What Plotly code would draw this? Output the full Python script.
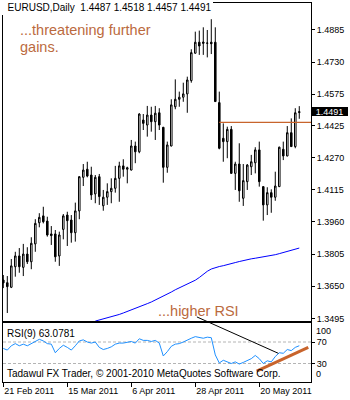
import pandas as pd
import plotly.graph_objects as go

# ---------------- data ----------------
dates = pd.bdate_range("2011-02-21", periods=75)
bars = list(range(75))

opens = [1.3680, 1.3667, 1.3645, 1.3744, 1.3796, 1.3741, 1.3805, 1.3768, 1.3854, 1.3956,
         1.3989, 1.3964, 1.3902, 1.3902, 1.3796, 1.3924, 1.3993, 1.3969, 1.3908, 1.4013,
         1.4175, 1.4214, 1.4186, 1.4095, 1.4178, 1.4038, 1.4079, 1.4106, 1.4122, 1.4170,
         1.4230, 1.4214, 1.4210, 1.4326, 1.4298, 1.4451, 1.4427, 1.4475, 1.4443, 1.4486,
         1.4416, 1.4223, 1.4326, 1.4515, 1.4551, 1.4561, 1.4577, 1.4641, 1.4773, 1.4826,
         1.4827, 1.4821, 1.4826, 1.4826, 1.4535, 1.4363, 1.4347, 1.4406, 1.4194, 1.4239,
         1.4074, 1.4154, 1.4226, 1.4245, 1.4307, 1.4130, 1.4042, 1.4101, 1.4079, 1.4130,
         1.4310, 1.4278, 1.4390, 1.4323, 1.4487]
highs = [1.3704, 1.3699, 1.3781, 1.3816, 1.3834, 1.3854, 1.3838, 1.3886, 1.3973, 1.4002,
         1.4033, 1.3985, 1.3940, 1.3921, 1.3913, 1.3998, 1.4009, 1.3993, 1.4053, 1.4180,
         1.4239, 1.4250, 1.4226, 1.4186, 1.4191, 1.4114, 1.4146, 1.4170, 1.4230, 1.4250,
         1.4262, 1.4226, 1.4355, 1.4347, 1.4484, 1.4480, 1.4519, 1.4515, 1.4519, 1.4508,
         1.4418, 1.4347, 1.4551, 1.4647, 1.4588, 1.4631, 1.4660, 1.4792, 1.4877, 1.4882,
         1.4898, 1.4885, 1.4937, 1.4898, 1.4588, 1.4435, 1.4419, 1.4422, 1.4250, 1.4339,
         1.4239, 1.4239, 1.4283, 1.4320, 1.4347, 1.4132, 1.4127, 1.4117, 1.4202, 1.4323,
         1.4347, 1.4422, 1.4459, 1.4508, 1.4518]
lows = [1.3641, 1.3521, 1.3641, 1.3696, 1.3715, 1.3699, 1.3757, 1.3732, 1.3816, 1.3934,
        1.3953, 1.3889, 1.3849, 1.3768, 1.3748, 1.3876, 1.3844, 1.3860, 1.3865, 1.3973,
        1.4133, 1.4175, 1.4066, 1.4050, 1.4042, 1.4014, 1.4042, 1.4050, 1.4101, 1.4057,
        1.4178, 1.4146, 1.4208, 1.4243, 1.4291, 1.4403, 1.4371, 1.4395, 1.4355, 1.4403,
        1.4149, 1.4197, 1.4324, 1.4503, 1.4515, 1.4539, 1.4486, 1.4631, 1.4771, 1.4765,
        1.4765, 1.4753, 1.4769, 1.4538, 1.4310, 1.4250, 1.4267, 1.4192, 1.4114, 1.4057,
        1.4037, 1.4114, 1.4186, 1.4194, 1.4130, 1.3966, 1.3993, 1.4004, 1.4062, 1.4128,
        1.4258, 1.4276, 1.4321, 1.4315, 1.4457]
closes = [1.3666, 1.3648, 1.3748, 1.3796, 1.3744, 1.3805, 1.3768, 1.3857, 1.3953, 1.3982,
          1.3961, 1.3897, 1.3894, 1.3792, 1.3897, 1.3989, 1.3966, 1.3908, 1.4013, 1.4178,
          1.4210, 1.4181, 1.4090, 1.4175, 1.4082, 1.4079, 1.4106, 1.4122, 1.4170, 1.4230,
          1.4214, 1.4221, 1.4326, 1.4298, 1.4480, 1.4435, 1.4475, 1.4443, 1.4484, 1.4427,
          1.4223, 1.4331, 1.4524, 1.4551, 1.4561, 1.4577, 1.4644, 1.4776, 1.4826, 1.4808,
          1.4821, 1.4822, 1.4819, 1.4540, 1.4315, 1.4347, 1.4406, 1.4194, 1.4239, 1.4110,
          1.4159, 1.4234, 1.4250, 1.4307, 1.4154, 1.4042, 1.4101, 1.4079, 1.4133, 1.4320,
          1.4278, 1.4390, 1.4323, 1.4486, 1.4491]

ma_start_bar = 23
ma_values = [1.3482, 1.3487, 1.3493, 1.3498, 1.3502, 1.3507, 1.3514, 1.3521, 1.3528, 1.3535,
             1.3543, 1.3550, 1.3558, 1.3566, 1.3574, 1.3583, 1.3592, 1.3601, 1.3612, 1.3622,
             1.3633, 1.3642, 1.3652, 1.3662, 1.3670, 1.3679, 1.3692, 1.3708, 1.3722, 1.3733,
             1.3740, 1.3745, 1.3749, 1.3753, 1.3758, 1.3764, 1.3769, 1.3774, 1.3778, 1.3782,
             1.3785, 1.3788, 1.3791, 1.3794, 1.3798, 1.3802, 1.3807, 1.3812, 1.3817, 1.3822,
             1.3828, 1.3834]

rsi_values = [58, 55, 63, 67, 63, 66, 63, 67, 72, 75,
              72, 67, 66, 50, 58, 64, 60, 55, 63, 72,
              74, 70, 68, 70, 60, 56, 58, 61, 66, 68,
              68, 69, 71, 68, 76, 73, 73, 71, 73, 68,
              44, 52, 62, 66, 67, 70, 74, 77, 80, 79,
              77, 79, 78, 46, 31, 36, 33, 30, 33, 29,
              32, 35, 39, 45, 39, 30, 35, 33, 43, 50,
              49, 56, 54, 60, 63.0781]
rsi_period = 9
rsi_levels = [70, 30]

price_ticks = [1.3495, 1.3650, 1.3805, 1.3960, 1.4115, 1.4270, 1.4425, 1.4575, 1.4730, 1.4885]
date_tick_bars = [0, 16, 32, 48, 64]
date_tick_labels = [dates[i].strftime("%-d %b %Y") for i in date_tick_bars]

resistance_price = 1.4440
resistance_start_bar = 54
rsi_trend_bars = [63.35, 76.25]
rsi_trend_vals = [16, 60]
pointer_from = (48.4, 1.3502)   # (bar, price) in price panel
pointer_to = (68.75, 49)        # (bar, RSI) in RSI panel

# ---------------- layout geometry ----------------
W, H = 350, 400
ML, MR, MT, MB = 3, 39, 3, 18
PW, PH = W - ML - MR, H - MT - MB
main_dom = [(H - MB - 321) / PH, 1.0]
rsi_dom = [0.0, (H - MB - 323) / PH]
price_range = [1.34824, 1.50151]
rsi_range = [-4.4, 105.35]
x_range = [-0.075, 76.93]

ORANGE = "#c8642c"
TEXT_OR = "#bb6a3e"
FONT = "Liberation Sans, Arial, sans-serif"


def ypx(px):  # pixel row -> paper
    return (H - MB - px) / PH


def xpx(px):
    return (px - ML) / PW


def to_paper(v, rng, dom):
    return dom[0] + (v - rng[0]) / (rng[1] - rng[0]) * (dom[1] - dom[0])


fig = go.Figure()
fig.add_trace(go.Candlestick(
    x=bars, open=opens, high=highs, low=lows, close=closes,
    increasing=dict(line=dict(color="black", width=1), fillcolor="white"),
    decreasing=dict(line=dict(color="black", width=1), fillcolor="black"),
    whiskerwidth=0, hoverinfo="skip", showlegend=False, xaxis="x", yaxis="y"))
fig.add_trace(go.Scatter(x=bars[ma_start_bar:], y=ma_values, mode="lines",
                         line=dict(color="#0000ff", width=1), hoverinfo="skip",
                         showlegend=False, xaxis="x", yaxis="y"))
fig.add_trace(go.Scatter(x=[resistance_start_bar, x_range[1]], y=[resistance_price] * 2,
                         mode="lines", line=dict(color=ORANGE, width=1.3), hoverinfo="skip",
                         showlegend=False, xaxis="x", yaxis="y"))
fig.add_trace(go.Scatter(x=bars, y=rsi_values, mode="lines",
                         line=dict(color="#1e90ff", width=1), hoverinfo="skip",
                         showlegend=False, xaxis="x2", yaxis="y2"))
fig.add_trace(go.Scatter(x=rsi_trend_bars, y=rsi_trend_vals, mode="lines",
                         line=dict(color=ORANGE, width=3), hoverinfo="skip",
                         showlegend=False, xaxis="x2", yaxis="y2"))

axis_common = dict(showgrid=False, zeroline=False, showline=True, mirror=True,
                   linecolor="black", linewidth=1, fixedrange=True)

shapes = []
for lv in rsi_levels:
    shapes.append(dict(type="line", xref="x2 domain", yref="y2", x0=0, x1=1, y0=lv, y1=lv,
                       line=dict(color="#b4b4b4", width=1, dash="3px,2px"), layer="below"))
shapes.append(dict(type="line", xref="x", yref="paper",
                   x0=pointer_from[0], y0=to_paper(pointer_from[1], price_range, main_dom),
                   x1=pointer_to[0], y1=to_paper(pointer_to[1], rsi_range, rsi_dom),
                   line=dict(color="black", width=1)))

last = -1
header = (f"&nbsp;&nbsp;EURUSD,Daily&nbsp;&nbsp;{opens[last]:.4f} {highs[last]:.4f} "
          f"{lows[last]:.4f} {closes[last]:.4f}")

ann = [
    dict(text=header, xref="paper", yref="paper", x=0, y=1, xanchor="left", yanchor="top",
         xshift=-3, yshift=3, showarrow=False, bgcolor="white", borderpad=2, borderwidth=0,
         font=dict(family=FONT, size=10, color="black")),
    dict(text="...threatening further", xref="paper", yref="paper", x=xpx(20), y=ypx(30.5),
         xanchor="left", yanchor="middle", showarrow=False, borderpad=0, borderwidth=0,
         font=dict(family=FONT, size=14.5, color=TEXT_OR)),
    dict(text="gains.", xref="paper", yref="paper", x=xpx(20), y=ypx(47),
         xanchor="left", yanchor="middle", showarrow=False, borderpad=0, borderwidth=0,
         font=dict(family=FONT, size=14.5, color=TEXT_OR)),
    dict(text="...higher RSI", xref="paper", yref="paper", x=xpx(158), y=ypx(311),
         xanchor="left", yanchor="middle", showarrow=False, borderpad=0, borderwidth=0,
         font=dict(family=FONT, size=14.5, color=TEXT_OR)),
    dict(text=f"RSI({rsi_period}) {rsi_values[last]:.4f}", xref="paper", yref="paper",
         x=xpx(7), y=ypx(333.7), xanchor="left", yanchor="middle", showarrow=False,
         borderpad=0, borderwidth=0, font=dict(family=FONT, size=10, color="black")),
    dict(text="Tadawul FX Trader, © 2001-2010 MetaQuotes Software Corp.", xref="paper",
         yref="paper", x=xpx(7), y=ypx(373.5), xanchor="left", yanchor="middle",
         showarrow=False, borderpad=0, borderwidth=0,
         font=dict(family=FONT, size=10, color="black")),
    dict(text="100", xref="paper", yref="paper", x=1, xshift=5, y=ypx(330.7), xanchor="left",
         yanchor="middle", showarrow=False, borderpad=0, borderwidth=0,
         font=dict(family=FONT, size=9, color="black")),
    dict(text="0", xref="paper", yref="paper", x=1, xshift=5, y=ypx(374.3), xanchor="left",
         yanchor="middle", showarrow=False, borderpad=0, borderwidth=0,
         font=dict(family=FONT, size=9, color="black")),
    dict(text=f"{closes[last]:.4f}", xref="paper", yref="y", x=1, y=closes[last],
         xanchor="left", yanchor="middle", showarrow=False, bgcolor="black",
         borderpad=0, borderwidth=0, width=37, height=9, align="center",
         font=dict(family=FONT, size=9, color="white")),
]

fig.update_layout(
    width=W, height=H, margin=dict(l=ML, r=MR, t=MT, b=MB),
    paper_bgcolor="white", plot_bgcolor="white", showlegend=False,
    font=dict(family=FONT, size=9, color="black"), boxgap=0.45, hovermode=False,
    xaxis=dict(domain=[0, 1], range=x_range, anchor="y", showticklabels=False, ticks="",
               rangeslider=dict(visible=False), **axis_common),
    yaxis=dict(domain=main_dom, range=price_range, side="right", anchor="x",
               tickvals=price_ticks, ticktext=[f"{v:.4f}" for v in price_ticks],
               ticks="outside", ticklen=3, tickcolor="black",
               tickfont=dict(size=9), **axis_common),
    xaxis2=dict(domain=[0, 1], range=x_range, anchor="y2", matches="x",
                tickvals=date_tick_bars, ticktext=date_tick_labels, ticks="outside",
                ticklen=4, tickcolor="black", ticklabelposition="outside right",
                tickfont=dict(size=9), rangeslider=dict(visible=False), **axis_common),
    yaxis2=dict(domain=rsi_dom, range=rsi_range, side="right", anchor="x2",
                tickvals=rsi_levels, ticktext=[str(v) for v in rsi_levels],
                ticks="outside", ticklen=3, tickcolor="black",
                tickfont=dict(size=9), **axis_common),
    shapes=shapes, annotations=ann,
)

fig.write_html("out.html", config={"displayModeBar": False, "staticPlot": True})
